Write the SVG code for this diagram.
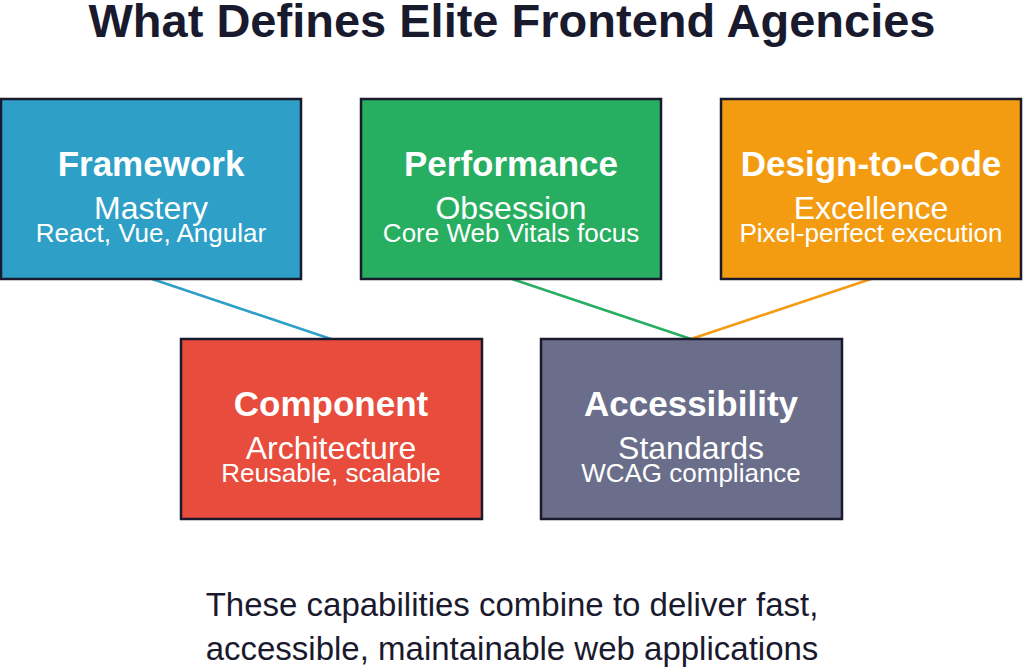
<svg xmlns="http://www.w3.org/2000/svg" width="1024" height="670" viewBox="0 0 1024 670">
<style>
text{font-family:"Liberation Sans",Arial,sans-serif;text-anchor:middle}
.b{stroke:#1a1a2e;stroke-width:2.5}
.t{font-weight:bold;font-size:35px;fill:#fff}
.s{font-size:32px;fill:#fff}
.d{font-size:26px;fill:#fff}
.f{font-size:33px;fill:#1a1a2e}
</style>
<rect width="1024" height="670" fill="#fff"/>
<text x="512" y="37" style="font-weight:bold;font-size:47px;fill:#1a1a2e">What Defines Elite Frontend Agencies</text>
<g id="connectors" stroke-width="2.5">
<line x1="152" y1="279" x2="331" y2="339" stroke="#2e9fc7"/>
<line x1="512" y1="279" x2="691" y2="339" stroke="#27ae60"/>
<line x1="871" y1="279" x2="691" y2="339" stroke="#f39c12"/>
</g>
<g id="framework"><rect class="b" x="1" y="99" width="300" height="180" fill="#2e9fc7"/>
<text class="t" x="151" y="176">Framework</text><text class="s" x="151" y="219">Mastery</text><text class="d" x="151" y="242">React, Vue, Angular</text></g>
<g id="performance"><rect class="b" x="361" y="99" width="300" height="180" fill="#27ae60"/>
<text class="t" x="511" y="176">Performance</text><text class="s" x="511" y="219">Obsession</text><text class="d" x="511" y="242">Core Web Vitals focus</text></g>
<g id="design"><rect class="b" x="721" y="99" width="300" height="180" fill="#f39c12"/>
<text class="t" x="871" y="176">Design-to-Code</text><text class="s" x="871" y="219">Excellence</text><text class="d" x="871" y="242">Pixel-perfect execution</text></g>
<g id="component"><rect class="b" x="181" y="339" width="301" height="180" fill="#e74c3c"/>
<text class="t" x="331" y="416">Component</text><text class="s" x="331" y="459">Architecture</text><text class="d" x="331" y="482">Reusable, scalable</text></g>
<g id="accessibility"><rect class="b" x="541" y="339" width="301" height="180" fill="#6b6e8a"/>
<text class="t" x="691" y="416">Accessibility</text><text class="s" x="691" y="459">Standards</text><text class="d" x="691" y="482">WCAG compliance</text></g>
<text class="f" x="512" y="616">These capabilities combine to deliver fast,</text>
<text class="f" x="512" y="660">accessible, maintainable web applications</text>
</svg>
